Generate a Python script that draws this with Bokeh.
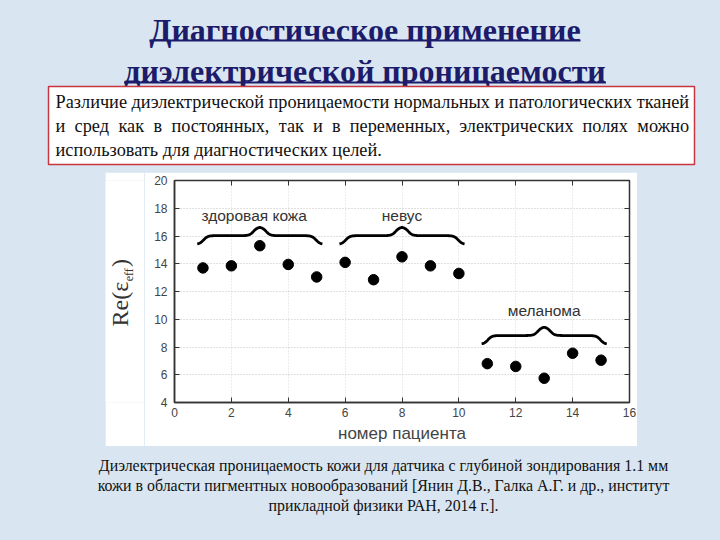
import os
import glob
import struct
import numpy as np
from bokeh.plotting import figure
from bokeh.layouts import column, row
from bokeh.models import Range1d, LinearAxis, FixedTicker
from bokeh.core.properties import value
from bokeh.embed import file_html
from bokeh.resources import INLINE

# ---------------- data ----------------
patients = list(range(1, 16))
re_eps = [13.7, 13.85, 15.3, 13.95, 13.05, 14.1, 12.85, 14.5, 13.85, 13.3,
          6.8, 6.6, 5.75, 7.55, 7.05]
group_names = ["здоровая кожа", "невус", "меланома"]
group_start = [0.8, 5.8, 10.8]
group_end = [5.2, 10.2, 15.2]
brace_base = [15.4, 15.4, 8.2]
brace_height = [1.25, 1.25, 1.25]
label_x = [2.8, 8.0, 13.0]
label_y = [17.5, 17.5, 10.6]
x_ticks = [0, 2, 4, 6, 8, 10, 12, 14, 16]
y_ticks = [4, 6, 8, 10, 12, 14, 16, 18, 20]

title_lines = ["Диагностическое применение", "диэлектрической проницаемости"]
box_lines = [
    "Различие диэлектрической проницаемости нормальных и патологических тканей",
    "и сред как в постоянных, так и в переменных, электрических полях можно",
    "использовать для диагностических целей.",
]
caption_lines = [
    "Диэлектрическая проницаемость кожи для датчика с глубиной зондирования 1.1 мм",
    "кожи в области пигментных новообразований [Янин Д.В., Галка А.Г. и др., институт",
    "прикладной физики РАН, 2014 г.].",
]


# ---------------- font metrics (for text layout only) ----------------
def font_measurer(filename, fallback_em=0.48):
    roots = ["/usr/share/fonts", "/usr/local/share/fonts",
             os.path.expanduser("~/.fonts"), os.path.expanduser("~/.local/share/fonts")]
    path = None
    for r in roots:
        hits = glob.glob(os.path.join(r, "**", filename), recursive=True)
        if hits:
            path = hits[0]
            break
    if path is None:
        return lambda text, size: len(text) * fallback_em * size
    try:
        data = open(path, "rb").read()
        ntab = struct.unpack(">H", data[4:6])[0]
        tables = {}
        for i in range(ntab):
            tag, _, off, ln = struct.unpack(">4sIII", data[12 + 16 * i:28 + 16 * i])
            tables[tag.decode("latin1")] = off
        upem = struct.unpack(">H", data[tables["head"] + 18:tables["head"] + 20])[0]
        nhm = struct.unpack(">H", data[tables["hhea"] + 34:tables["hhea"] + 36])[0]
        hm = tables["hmtx"]
        advs = [struct.unpack(">H", data[hm + 4 * i:hm + 4 * i + 2])[0] for i in range(nhm)]
        cmap = tables["cmap"]
        n = struct.unpack(">H", data[cmap + 2:cmap + 4])[0]
        cm = {}
        for i in range(n):
            pid, eid, off = struct.unpack(">HHI", data[cmap + 4 + 8 * i:cmap + 12 + 8 * i])
            sub = cmap + off
            fmt = struct.unpack(">H", data[sub:sub + 2])[0]
            if fmt != 4 or pid not in (0, 3):
                continue
            segx2 = struct.unpack(">H", data[sub + 6:sub + 8])[0]
            seg = segx2 // 2
            ends = struct.unpack(">%dH" % seg, data[sub + 14:sub + 14 + segx2])
            starts = struct.unpack(">%dH" % seg, data[sub + 16 + segx2:sub + 16 + 2 * segx2])
            deltas = struct.unpack(">%dh" % seg, data[sub + 16 + 2 * segx2:sub + 16 + 3 * segx2])
            rpos = sub + 16 + 3 * segx2
            roffs = struct.unpack(">%dH" % seg, data[rpos:rpos + segx2])
            for s in range(seg):
                for c in range(starts[s], ends[s] + 1):
                    if c == 0xFFFF:
                        continue
                    if roffs[s] == 0:
                        g = (c + deltas[s]) & 0xFFFF
                    else:
                        gp = rpos + 2 * s + roffs[s] + 2 * (c - starts[s])
                        g = struct.unpack(">H", data[gp:gp + 2])[0]
                        if g:
                            g = (g + deltas[s]) & 0xFFFF
                    cm[c] = g
            break

        def measure(text, size):
            tot = 0
            for ch in text:
                g = cm.get(ord(ch), 0)
                tot += advs[min(g, nhm - 1)]
            return tot * size / upem
        return measure
    except Exception:
        return lambda text, size: len(text) * fallback_em * size


serif_w = font_measurer("LiberationSerif-Regular.ttf", 0.47)
serif_bold_w = font_measurer("LiberationSerif-Bold.ttf", 0.52)

# ---------------- layout constants (slide pixels, y measured from top) ----------------
W = 720
TOP_H = 172
MID_Y0, MID_Y1 = 172, 446
PIC_X0, PIC_X1 = 105, 637
CH_X0 = 144
FL, FR, FT, FB = 174, 629, 180, 402
BG = "#d9e6f2"
NAVY = "#1c1c6a"


def deco(width, height, x0, x1, y0, y1, fill=BG):
    """Decoration canvas; data x = slide px, data y = -(slide px from top)."""
    f = figure(width=width, height=height, x_range=Range1d(x0, x1),
               y_range=Range1d(-y1, -y0), x_axis_type=None, y_axis_type=None,
               min_border=0, toolbar_location=None, output_backend="svg")
    f.background_fill_color = fill
    f.border_fill_color = fill
    f.outline_line_color = None
    f.grid.visible = False
    return f


# ---------- top band: title + red text box ----------
top = deco(W, TOP_H, 0, W, 0, TOP_H)
t_size = 431.0 / serif_bold_w(title_lines[0], 1.0)
t_cx = 364.5
t_y = [29, 70]
t_ul = [40, 82]
top.text(x=[t_cx, t_cx], y=[-v for v in t_y], text=title_lines,
         text_font=value("Liberation Serif"), text_font_size="%.1fpx" % t_size,
         text_font_style="bold", text_color=NAVY, text_align="center",
         text_baseline="middle")
for line, uy in zip(title_lines, t_ul):
    hw = serif_bold_w(line, t_size) / 2.0
    top.quad(left=[t_cx - hw], right=[t_cx + hw], top=[-uy + 1], bottom=[-uy - 1],
             fill_color=NAVY, line_color=None)

top.quad(left=[48], right=[694], top=[-86], bottom=[-164], fill_color="white",
         line_color="#c8363f", line_width=1.5)
bx0, bx1 = 55, 689
b_size = (bx1 - bx0) / serif_w(box_lines[0], 1.0)
b_y = [101, 125, 149]
txt_kw = dict(text_font=value("Liberation Serif"), text_font_size="%.1fpx" % b_size,
              text_color="#111111", text_align="left", text_baseline="middle")
top.text(x=[bx0], y=[-b_y[0]], text=[box_lines[0]], **txt_kw)
words = box_lines[1].split(" ")
ww = [serif_w(w_, b_size) for w_ in words]
gap = ((bx1 - bx0) - sum(ww)) / (len(words) - 1)
wx = []
cur = bx0
for w_ in ww:
    wx.append(cur)
    cur += w_ + gap
top.text(x=wx, y=[-b_y[1]] * len(words), text=words, **txt_kw)
top.text(x=[bx0], y=[-b_y[2]], text=[box_lines[2]], **txt_kw)

# ---------- middle row ----------
left_bg = deco(PIC_X0, MID_Y1 - MID_Y0, 0, PIC_X0, FT, FB)
# white margin of the picture with the y-axis label
# (its frame is aligned with the chart frame, so the data range spans FT..FB)
left_w = deco(CH_X0 - PIC_X0, MID_Y1 - MID_Y0, PIC_X0, CH_X0, FT, FB, fill="white")
ylab_kw = dict(angle=np.pi / 2, text_font=value("Liberation Serif"),
               text_color="#333333", text_align="left", text_baseline="middle")
big, small = 24.0, 12.0
y_start = 326.0
w1 = serif_w("Re(ε", big)
w2 = serif_w("eff", small)
left_w.text(x=[119.5], y=[-y_start], text=["Re(ε"], text_font_size="%.1fpx" % big, **ylab_kw)
left_w.text(x=[128.5], y=[-(y_start - w1 - 0.5)], text=["eff"],
            text_font_size="%.1fpx" % small, **ylab_kw)
left_w.text(x=[119.5], y=[-(y_start - w1 - w2 - 1.5)], text=[")"],
            text_font_size="%.1fpx" % big, **ylab_kw)

# the chart
p = figure(width=PIC_X1 - CH_X0, height=MID_Y1 - MID_Y0,
           x_range=Range1d(0, 16), y_range=Range1d(4, 20),
           min_border_left=FL - CH_X0, min_border_right=PIC_X1 - FR,
           min_border_top=FT - MID_Y0, min_border_bottom=MID_Y1 - FB,
           toolbar_location=None, output_backend="svg")
p.border_fill_color = "white"
p.background_fill_color = "white"
p.outline_line_color = "#333333"
p.outline_line_width = 1.5

for ax in (p.xaxis[0], p.yaxis[0]):
    ax.major_tick_in = 5
    ax.major_tick_out = 0
    ax.minor_tick_line_color = None
    ax.axis_line_color = "#333333"
    ax.axis_line_width = 1.5
    ax.major_tick_line_color = "#333333"
    ax.major_label_text_font = "Liberation Sans"
    ax.major_label_text_font_size = "12px"
    ax.major_label_text_color = "#444444"
p.xaxis[0].ticker = FixedTicker(ticks=x_ticks)
p.yaxis[0].ticker = FixedTicker(ticks=y_ticks)
p.xaxis[0].major_label_standoff = 5
p.yaxis[0].major_label_standoff = 7
p.xaxis[0].axis_label = "номер пациента"
p.xaxis[0].axis_label_text_font = "Liberation Sans"
p.xaxis[0].axis_label_text_font_size = "17px"
p.xaxis[0].axis_label_text_font_style = "normal"
p.xaxis[0].axis_label_text_color = "#444444"
p.xaxis[0].axis_label_standoff = 4

for loc, tk in (("above", x_ticks), ("right", y_ticks)):
    a = LinearAxis(ticker=FixedTicker(ticks=tk), major_label_text_alpha=0,
                   major_label_text_font_size="0px", major_label_standoff=0,
                   major_tick_in=5, major_tick_out=0,
                   minor_tick_line_color=None, axis_line_color="#333333",
                   major_tick_line_color="#333333")
    p.add_layout(a, loc)

p.xgrid.ticker = FixedTicker(ticks=x_ticks)
p.ygrid.ticker = FixedTicker(ticks=y_ticks)
for g in (p.xgrid[0], p.ygrid[0]):
    g.grid_line_color = "#c0c0c0"
    g.grid_line_dash = "1 2"
    g.grid_line_width = 1
p.xgrid[0].grid_line_alpha = 0.6

p.scatter(x=patients, y=re_eps, size=10.5, color="black")


def brace_path(x0, x1, y0, h, n=240):
    u = np.linspace(0.0, 1.0, n)
    half = np.minimum(u, 1.0 - u)
    k = 60.0
    y = y0 + h * (0.5 / (1 + np.exp(-k * (half - 0.05))) +
                  0.5 / (1 + np.exp(-k * (half - 0.45))))
    x = x0 + (x1 - x0) * u
    return x, y


for x0, x1, yb, h in zip(group_start, group_end, brace_base, brace_height):
    bx, by = brace_path(x0, x1, yb, h)
    p.line(bx, by, line_width=2.8, color="black")

p.text(x=label_x, y=label_y, text=group_names, text_font=value("Liberation Sans"),
       text_font_size="15.5px", text_color="#333333", text_align="center",
       text_baseline="middle")

right = deco(W - PIC_X1, MID_Y1 - MID_Y0, PIC_X1, W, FT, FB)

# ---------- bottom: caption ----------
bottom = deco(W, 540 - MID_Y1, 0, W, MID_Y1, 540)
c_size = 571.0 / serif_w(caption_lines[0], 1.0)
bottom.text(x=[383, 383, 383], y=[-465, -485, -505], text=caption_lines,
            text_font=value("Liberation Serif"), text_font_size="%.1fpx" % c_size,
            text_color="#111111", text_align="center", text_baseline="middle")

layout = column(top, row(left_bg, left_w, p, right, spacing=0), bottom, spacing=0)
layout.styles = {"background-color": BG}

open("out.html", "w").write(file_html(layout, INLINE))
